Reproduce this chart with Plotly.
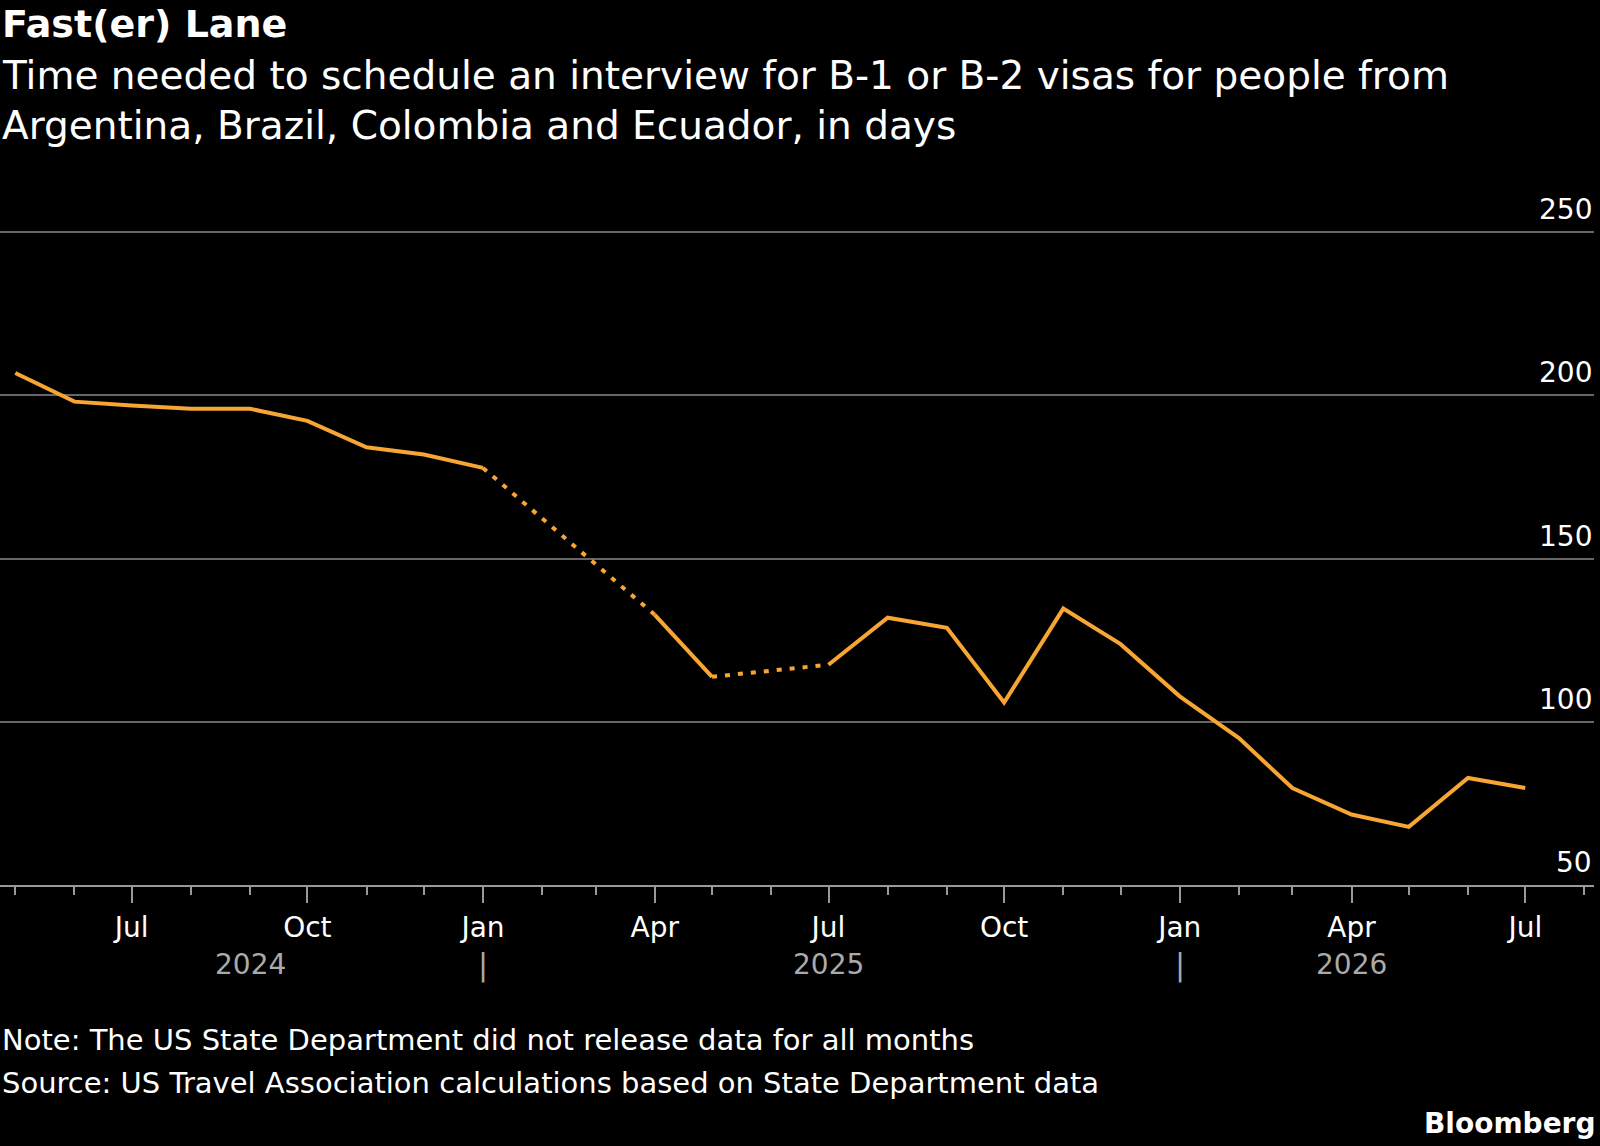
import plotly.graph_objects as go

months = ["2024-05","2024-06","2024-07","2024-08","2024-09","2024-10","2024-11","2024-12",
          "2025-01","2025-02","2025-03","2025-04","2025-05","2025-06","2025-07","2025-08",
          "2025-09","2025-10","2025-11","2025-12","2026-01","2026-02","2026-03","2026-04",
          "2026-05","2026-06","2026-07"]
days = [206.9,198.1,196.9,195.9,195.9,192.2,184.1,181.9,
        177.8,None,None,132.8,113.8,None,117.5,131.9,
        128.8,105.9,134.7,123.8,107.8,95.0,79.7,71.6,
        67.8,82.8,79.7]
y_ticks = [50, 100, 150, 200, 250]
dates = [m + "-01" for m in months]

gap_x, gap_y = [], []
for i in range(len(days)):
    if days[i] is None:
        continue
    if i + 1 < len(days) and days[i + 1] is None:
        j = i + 1
        while days[j] is None:
            j += 1
        gap_x += [dates[i], dates[j], None]
        gap_y += [days[i], days[j], None]

orange = "#f7a533"
fig = go.Figure()
fig.add_trace(go.Scatter(x=gap_x, y=gap_y, mode="lines",
                         line=dict(color=orange, width=4, dash="5px,8px"), connectgaps=False))
fig.add_trace(go.Scatter(x=dates, y=days, mode="lines",
                         line=dict(color=orange, width=4), connectgaps=False))

H = 640.0
def py(ypx):
    return (867 - ypx) / H

ann = []
F = "DejaVu Sans"
def txt(t, x, y, size, color="white", xanchor="left"):
    ann.append(dict(text=t, x=x, y=py(y), xref="paper", yref="paper", xanchor=xanchor,
                    yanchor="middle", showarrow=False, font=dict(size=size, color=color, family=F)))
txt("<b>Fast(er) Lane</b>", 0, 27, 38)
txt("Time needed to schedule an interview for B-1 or B-2 visas for people from", 0, 77, 39)
txt("Argentina, Brazil, Colombia and Ecuador, in days", 0, 126, 39)
txt("Note: The US State Department did not release data for all months", 0, 1018, 29)
txt("Source: US Travel Association calculations based on State Department data", 0, 1060, 29)
txt("<b>Bloomberg</b>", 1565/1562, 1100, 28, xanchor="right")
for v in y_ticks:
    ann.append(dict(text=str(v), x=1, y=v, xref="paper", yref="y", xanchor="right", yanchor="bottom",
                    yshift=4, showarrow=False, font=dict(size=28, color="white", family=F)))
for t, d in [("2024", "2024-09-01"), ("2025", "2025-07-01"), ("2026", "2026-04-01")]:
    ann.append(dict(text=t, x=d, y=py(963), xref="x", yref="paper", showarrow=False,
                    font=dict(size=28, color="#aaaaaa", family=F)))
for d in ["2025-01-01", "2026-01-01"]:
    ann.append(dict(text="|", x=d, y=py(965), xref="x", yref="paper", showarrow=False,
                    font=dict(size=30, color="#aaaaaa", family=F)))

fig.update_layout(
    width=1600, height=1146, paper_bgcolor="black", plot_bgcolor="black",
    margin=dict(l=0, r=6, t=229, b=261), showlegend=False, annotations=ann,
    font=dict(family=F, color="white"),
    xaxis=dict(range=["2024-04-23", "2026-08-06"], showgrid=False, zeroline=False,
               tickvals=["2024-07-01","2024-10-01","2025-01-01","2025-04-01","2025-07-01",
                         "2025-10-01","2026-01-01","2026-04-01","2026-07-01"],
               ticktext=["Jul","Oct","Jan","Apr","Jul","Oct","Jan","Apr","Jul"],
               ticks="outside", ticklen=16, tickwidth=2, tickcolor="#999999",
               tickfont=dict(size=28, color="white", family=F), showline=True, linecolor="#999999", linewidth=2,
               minor=dict(dtick="M1", tick0="2024-05-01", ticks="outside", ticklen=8, tickcolor="#999999", tickwidth=2)),
    yaxis=dict(range=[50, 251], tickvals=y_ticks, showticklabels=False,
               gridcolor="#666666", gridwidth=2, zeroline=False, showline=False),
)
fig.write_html("out.html", config={"displayModeBar": False},
               post_script="document.body.style.margin='0';document.body.style.background='black';document.body.style.overflow='hidden';")
